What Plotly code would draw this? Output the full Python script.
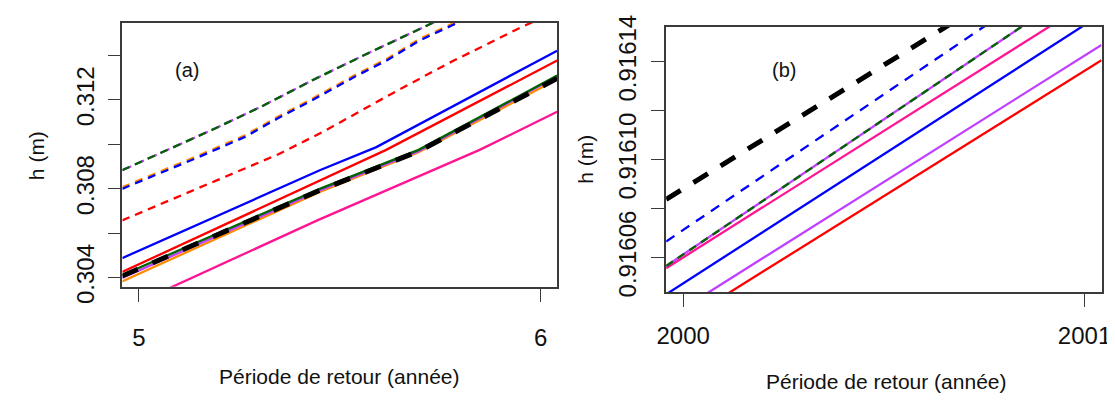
import plotly.graph_objects as go

# ---------------- Panel (a) data ----------------
a_solid_blue_x = [4.958, 5.4516, 5.591, 6.041]
a_solid_blue_y = [0.304877, 0.308845, 0.309877, 0.314217]
a_solid_red_x = [4.958, 5.4516, 5.6154, 6.041]
a_solid_red_y = [0.304251, 0.308361, 0.309752, 0.313774]
a_solid_green_x = [4.958, 5.4516, 5.6961, 6.041]
a_solid_green_y = [0.304113, 0.308010, 0.309752, 0.313094]
a_solid_orange_x = [4.958, 5.4516, 5.6961, 6.041]
a_solid_orange_y = [0.303833, 0.307872, 0.309647, 0.312926]
a_solid_purple_x = [4.958, 5.4516, 5.6961, 6.041]
a_solid_purple_y = [0.303987, 0.307935, 0.309689, 0.313052]
a_solid_pink_x = [4.958, 5.444, 5.848, 6.041]
a_solid_pink_y = [0.302551, 0.306580, 0.309752, 0.311469]
a_black_x = [4.958, 5.4516, 5.6961, 6.041]
a_black_y = [0.304071, 0.307943, 0.309689, 0.312968]
a_dash_green_x = [4.958, 5.1826, 5.3049, 5.4394, 5.5665, 5.7296, 6.041]
a_dash_green_y = [0.308833, 0.310658, 0.311703, 0.312956, 0.314067, 0.315462, 0.318106]
a_dash_purple_x = a_dash_green_x
a_dash_purple_y = a_dash_green_y
a_dash_blue_x = [4.958, 5.1418, 5.2641, 5.3457, 5.4271, 5.5379, 5.6196, 5.6968, 5.7785, 6.041]
a_dash_blue_y = [0.307997, 0.309376, 0.310337, 0.311172, 0.311945, 0.313052, 0.313804,
                 0.314660, 0.315349, 0.317584]
a_dash_orange_x = a_dash_blue_x
a_dash_orange_y = [0.308067, 0.309446, 0.310407, 0.311242, 0.312015, 0.313122, 0.313874,
                   0.314730, 0.315419, 0.317654]
a_dash_red_x = [4.958, 5.3457, 5.4606, 5.5421, 5.6196, 5.7702, 5.9413, 6.041]
a_dash_red_y = [0.306577, 0.309543, 0.310587, 0.311423, 0.312187, 0.313649, 0.315182, 0.316018]

# ---------------- Panel (b) data ----------------
b_x = [1999.9577, 2001.0423]
b_black_y = [0.9160838, 0.9161935]
b_dash_blue_y = [0.9160666, 0.9161868]
b_dash_green_y = [0.9160566, 0.9161763]
b_dash_purple_y = [0.9160566, 0.9161763]
b_solid_pink_y = [0.9160557, 0.9161678]
b_solid_blue_y = [0.9160450, 0.9161595]
b_solid_purple_y = [0.9160349, 0.9161469]
b_solid_red_y = [0.9160296, 0.9161406]

# ---------------- Axis ticks ----------------
a_xticks = [5, 6]
a_xticktext = ["5", "6"]
a_yticks = [0.304, 0.306, 0.308, 0.310, 0.312, 0.314]
a_yticktext = ["0.304", "", "0.308", "", "0.312", ""]
b_xticks = [2000, 2001]
b_xticktext = ["2000", "2001"]
b_yticks = [0.91606, 0.91608, 0.91610, 0.91612, 0.91614]
b_yticktext = ["0.91606", "", "0.91610", "", "0.91614"]

BLUE = "#0000FF"
RED = "#FF0000"
GREEN = "#006400"
ORANGE = "#FF8C00"
PURPLE = "#BF3EFF"
PINK = "#FF1493"
BLACK = "#000000"

FONT = "Liberation Sans, Arial, sans-serif"
LW = 2.3

fig = go.Figure()


def add(x, y, color, width=LW, dash="solid", xa="x", ya="y"):
    fig.add_trace(go.Scatter(x=x, y=y, mode="lines", xaxis=xa, yaxis=ya,
                             line=dict(color=color, width=width, dash=dash),
                             showlegend=False, hoverinfo="skip"))


D = "8px,6px"
# panel (a)
add(a_dash_red_x, a_dash_red_y, RED, dash=D)
add(a_dash_orange_x, a_dash_orange_y, ORANGE, dash=D)
add(a_dash_blue_x, a_dash_blue_y, BLUE, dash=D)
add(a_dash_purple_x, a_dash_purple_y, PURPLE, dash="10px,4px")
add(a_dash_green_x, a_dash_green_y, GREEN, dash=D)
add(a_solid_pink_x, a_solid_pink_y, PINK)
add(a_solid_blue_x, a_solid_blue_y, BLUE)
add(a_solid_red_x, a_solid_red_y, RED)
add(a_solid_orange_x, a_solid_orange_y, ORANGE)
add(a_solid_purple_x, a_solid_purple_y, PURPLE)
add(a_solid_green_x, a_solid_green_y, GREEN)
add(a_black_x, a_black_y, BLACK, width=5, dash="17px,16px")

# panel (b)
add(b_x, b_solid_red_y, RED, xa="x2", ya="y2")
add(b_x, b_solid_purple_y, PURPLE, xa="x2", ya="y2")
add(b_x, b_solid_blue_y, BLUE, xa="x2", ya="y2")
add(b_x, b_solid_pink_y, PINK, xa="x2", ya="y2")
add(b_x, b_dash_purple_y, PURPLE, xa="x2", ya="y2")
add(b_x, b_dash_green_y, GREEN, dash=D, xa="x2", ya="y2")
add(b_x, b_dash_blue_y, BLUE, dash="10px,8px", xa="x2", ya="y2")
add(b_x, b_black_y, BLACK, width=5, dash="17px,15px", xa="x2", ya="y2")

W, H = 1115, 402
LC = "#3a3a3a"


def xax(domain, rng, tv, tt, anchor, standoff):
    return dict(domain=domain, range=rng, tickvals=tv, ticktext=tt, anchor=anchor,
                showgrid=False, zeroline=False, showline=True, mirror=True,
                linecolor=LC, linewidth=1.5, ticks="outside", ticklen=13,
                tickwidth=1.3, tickcolor=LC, tickfont=dict(family=FONT, size=24, color="#111"),
                ticklabelstandoff=standoff, ticklabeloverflow="allow")


def yax(domain, rng, tv, tt, anchor, standoff):
    return dict(domain=domain, range=rng, tickvals=tv, ticktext=tt, anchor=anchor,
                showgrid=False, zeroline=False, showline=True, mirror=True,
                linecolor=LC, linewidth=1.5, ticks="outside", ticklen=13,
                tickwidth=1.3, tickcolor=LC, tickangle=-90,
                tickfont=dict(family=FONT, size=24, color="#111"),
                ticklabelstandoff=standoff, ticklabeloverflow="allow")


fig.update_layout(
    width=W, height=H,
    margin=dict(l=0, r=0, t=0, b=0),
    paper_bgcolor="white", plot_bgcolor="white",
    xaxis=xax([106.4 / W, 549 / W], [4.959, 6.041], a_xticks, a_xticktext, "y", 16),
    yaxis=yax([1 - 287.5 / H, 1 - 3.3 / H], [0.30359, 0.31546], a_yticks, a_yticktext, "x", 4),
    xaxis2=xax([660 / W, 1103.3 / W], [1999.9577, 2001.0423], b_xticks, b_xticktext, "y2", 8),
    yaxis2=yax([1 - 293.3 / H, 1 - 7.3 / H], [0.9160459, 0.9161543], b_yticks, b_yticktext, "x2", 6),
)

ann_font = dict(family=FONT, size=21, color="#111")
annotations = [
    dict(text="Période de retour (année)", x=327 / W, y=1 - 384 / H),
    dict(text="Période de retour (année)", x=884 / W, y=1 - 390 / H),
    dict(text="h (m)", x=19 / W, y=1 - 146 / H, textangle=-90),
    dict(text="h (m)", x=578 / W, y=1 - 150 / H, textangle=-90),
    dict(text="(a)", x=172 / W, y=1 - 54 / H, font=dict(family=FONT, size=20, color="#111")),
    dict(text="(b)", x=780 / W, y=1 - 54 / H, font=dict(family=FONT, size=20, color="#111")),
]
for a in annotations:
    a.setdefault("font", ann_font)
    a.update(xref="paper", yref="paper", showarrow=False, xanchor="center", yanchor="middle")
fig.update_layout(annotations=annotations)

fig.write_html("out.html", config={"displayModeBar": False})
